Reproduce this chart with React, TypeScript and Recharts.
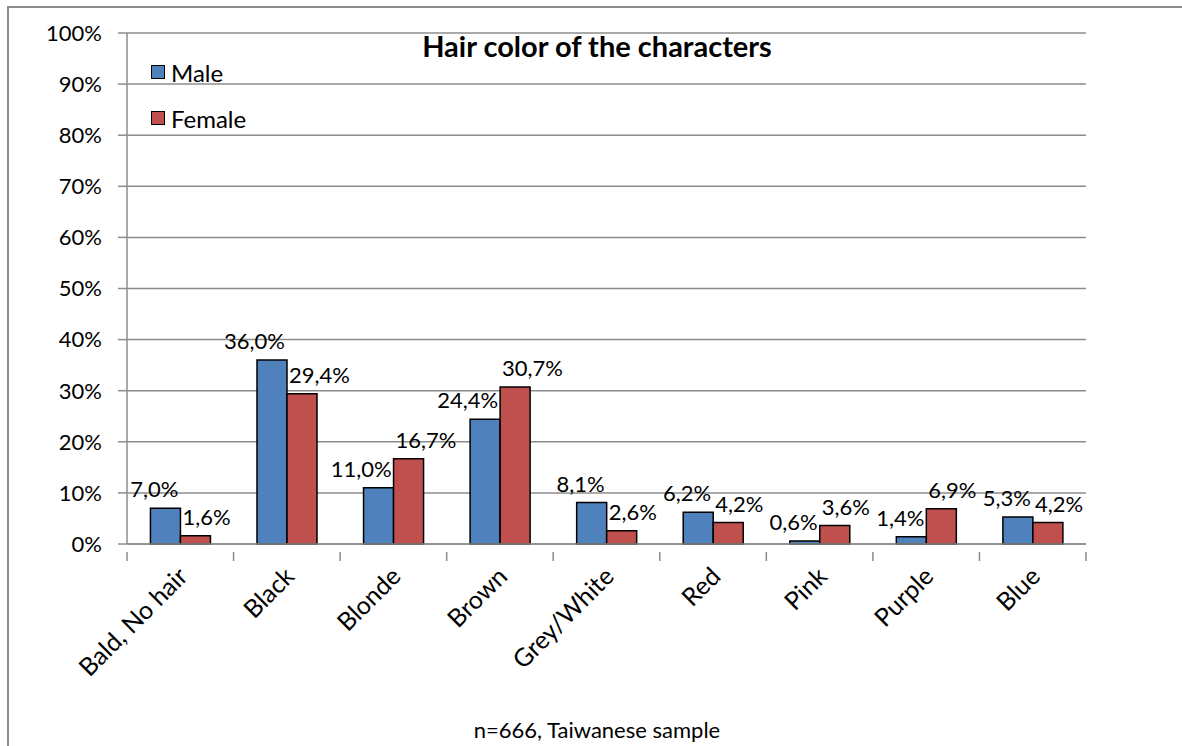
import { BarChart, Bar, XAxis, YAxis, CartesianGrid, LabelList, Legend } from 'recharts';

const categories = ['Bald, No hair', 'Black', 'Blonde', 'Brown', 'Grey/White', 'Red', 'Pink', 'Purple', 'Blue'];
const maleShare = [7.0, 36.0, 11.0, 24.4, 8.1, 6.2, 0.6, 1.4, 5.3];
const femaleShare = [1.6, 29.4, 16.7, 30.7, 2.6, 4.2, 3.6, 6.9, 4.2];
const percentTicks = [0, 10, 20, 30, 40, 50, 60, 70, 80, 90, 100];

const data = categories.map((name, i) => ({ name, male: maleShare[i], female: femaleShare[i] }));

const FONT = 'Lato, "Open Sans", sans-serif';
const GRID = '#8c8c8c';
const MALE = '#4F81BD';
const FEMALE = '#C0504D';

const W = 1182;
const H = 746;
const MARGIN = { top: 33, right: 96, bottom: 0, left: 0 };
const Y_AXIS_W = 127;
const X_AXIS_H = 202;
const BAND = (W - MARGIN.right - Y_AXIS_W) / categories.length;

const fmt = (v: number) => v.toFixed(1).replace('.', ',') + '%';

// male labels sit left of the pair's middle, female ones right of it
const makeLabel = (side: 'left' | 'right') => (props: any) => {
  const { x, y, width, value } = props;
  const tx = side === 'left' ? x + width : x;
  return (
    <text
      x={tx + (side === 'left' ? -2 : 2)}
      y={y - 11}
      textAnchor={side === 'left' ? 'end' : 'start'}
      fontFamily={FONT}
      fontSize={22}
      fill="#000"
    >
      {fmt(value)}
    </text>
  );
};

// category labels at 45 degrees, tick marks on the band edges
const CategoryTick = (props: any) => {
  const { x, y, payload, index } = props;
  const left = x - BAND / 2;
  const right = x + BAND / 2;
  const ax = x + 9;
  const ay = y + 26;
  return (
    <g>
      <line x1={left} y1={y} x2={left} y2={y + 9} stroke={GRID} strokeWidth={1.5} />
      {index === categories.length - 1 && (
        <line x1={right} y1={y} x2={right} y2={y + 9} stroke={GRID} strokeWidth={1.5} />
      )}
      <text
        x={ax}
        y={ay}
        textAnchor="end"
        transform={`rotate(-45 ${ax} ${ay})`}
        fontFamily={FONT}
        fontSize={25}
        fill="#000"
      >
        {payload.value}
      </text>
    </g>
  );
};

const LegendBox = () => (
  <div style={{ fontFamily: FONT, fontSize: 24, color: '#000' }}>
    {[
      { label: 'Male', color: MALE },
      { label: 'Female', color: FEMALE },
    ].map((item, i) => (
      <div key={item.label} style={{ display: 'flex', alignItems: 'center', height: 28, marginBottom: i === 0 ? 18 : 0 }}>
        <span
          style={{
            display: 'inline-block',
            width: 12,
            height: 12,
            background: item.color,
            border: '1.5px solid #000',
            marginRight: 6,
          }}
        />
        {item.label}
      </div>
    ))}
  </div>
);

export default function App() {
  return (
    <div style={{ position: 'absolute', left: 0, top: 0, width: W, height: H, background: '#fff', overflow: 'hidden' }}>
      <div
        style={{
          position: 'absolute',
          left: 7,
          top: 6,
          width: W,
          height: H,
          borderLeft: `2px solid ${GRID}`,
          borderTop: `2px solid ${GRID}`,
        }}
      />
      <BarChart
        width={W}
        height={H}
        data={data}
        margin={MARGIN}
        barCategoryGap="22%"
        barGap={0}
        style={{ position: 'absolute', left: 0, top: 0 }}
      >
        <CartesianGrid vertical={false} stroke={GRID} strokeWidth={1.5} />
        <XAxis
          dataKey="name"
          height={X_AXIS_H}
          interval={0}
          axisLine={{ stroke: GRID, strokeWidth: 1.5 }}
          tickLine={false}
          tick={<CategoryTick />}
        />
        <YAxis
          width={Y_AXIS_W}
          domain={[0, 100]}
          ticks={percentTicks}
          interval={0}
          tickFormatter={(v: number) => `${v}%`}
          axisLine={{ stroke: GRID, strokeWidth: 1.5 }}
          tickLine={{ stroke: GRID, strokeWidth: 1.5 }}
          tickSize={9}
          tickMargin={16}
          tick={{ fontFamily: FONT, fontSize: 22, fill: '#000' }}
        />
        <Legend
          layout="vertical"
          align="center"
          verticalAlign="middle"
          content={<LegendBox />}
          wrapperStyle={{ position: 'absolute', left: 151, top: 58, width: 'auto' }}
        />
        <Bar dataKey="male" name="Male" fill={MALE} stroke="#000" strokeWidth={1.5} isAnimationActive={false}>
          <LabelList dataKey="male" content={makeLabel('left')} />
        </Bar>
        <Bar dataKey="female" name="Female" fill={FEMALE} stroke="#000" strokeWidth={1.5} isAnimationActive={false}>
          <LabelList dataKey="female" content={makeLabel('right')} />
        </Bar>
      </BarChart>
      <div
        style={{
          position: 'absolute',
          left: 0,
          width: 1194,
          top: 28,
          textAlign: 'center',
          fontFamily: FONT,
          fontWeight: 700,
          fontSize: 29,
          color: '#000',
        }}
      >
        Hair color of the characters
      </div>
      <div
        style={{
          position: 'absolute',
          left: 0,
          width: 1194,
          top: 716,
          textAlign: 'center',
          fontFamily: FONT,
          fontSize: 22,
          color: '#000',
        }}
      >
        n=666, Taiwanese sample
      </div>
    </div>
  );
}
